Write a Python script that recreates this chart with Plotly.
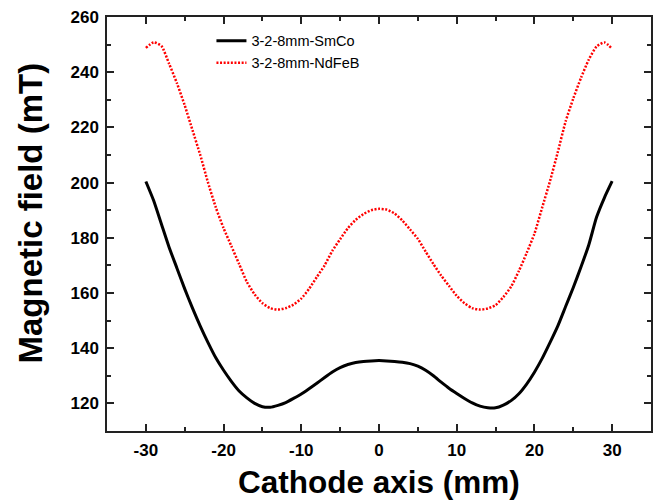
import plotly.graph_objects as go

x_vals = list(range(-30, 31))

smco = [200.4, 193.5, 185.0, 176.5, 169.0, 161.5, 154.5, 148.0, 142.0, 136.5,
        132.0, 128.0, 124.5, 122.0, 120.0, 118.8, 118.6, 119.3, 120.3, 121.8,
        123.4, 125.3, 127.3, 129.4, 131.4, 133.0, 134.1, 134.8, 135.2, 135.4,
        135.5,
        135.4, 135.2, 134.9, 134.4, 133.5, 132.0, 130.0, 127.7, 125.5, 123.6,
        121.8, 120.2, 119.0, 118.4, 118.4, 119.4, 121.0, 123.5, 127.0, 131.3,
        136.3, 142.0, 148.0, 155.0, 162.0, 169.5, 177.5, 187.5, 194.5, 200.5]

ndfeb = [248.8, 250.8, 249.5, 243.0, 236.0, 228.0, 219.0, 210.0, 200.0, 191.0,
         183.5, 177.0, 170.5, 164.0, 159.5, 156.3, 154.5, 154.0, 154.5, 155.8,
         158.0, 161.5, 165.8, 170.0, 175.3, 179.5, 183.5, 186.5, 188.6, 190.0,
         190.5,
         190.2, 188.8, 186.3, 183.0, 179.6, 175.0, 170.5, 166.3, 162.6, 159.0,
         156.3, 154.5, 154.0, 154.4, 155.6, 158.5, 162.3, 168.0, 174.5, 181.5,
         191.0, 200.5, 211.0, 222.0, 230.5, 238.0, 244.6, 249.3, 250.8, 248.5]

x_ticks = [-30, -20, -10, 0, 10, 20, 30]
x_tick_labels = ["-30", "-20", "-10", "0", "10", "20", "30"]
y_ticks = [120, 140, 160, 180, 200, 220, 240, 260]
y_tick_labels = ["120", "140", "160", "180", "200", "220", "240", "260"]

x_title = "Cathode axis (mm)"
y_title = "Magnetic field (mT)"

FONT = "Liberation Sans, Arial, sans-serif"

fig = go.Figure()
fig.add_trace(go.Scatter(x=x_vals, y=smco, mode="lines", name="3-2-8mm-SmCo",
                         line=dict(color="black", width=3, shape="spline", smoothing=0.6)))
fig.add_trace(go.Scatter(x=x_vals, y=ndfeb, mode="lines", name="3-2-8mm-NdFeB",
                         line=dict(color="#ff0000", width=2.5, dash="2px,1.6px",
                                   shape="spline", smoothing=0.6)))

axis_common = dict(showgrid=False, zeroline=False, showline=True, linecolor="#222",
                   linewidth=1.5, mirror="ticks", ticks="inside", ticklen=7,
                   tickwidth=1.5, tickcolor="#222", ticklabelstandoff=3,
                   automargin=False,
                   tickfont=dict(family=FONT, size=17, color="black", weight="bold"))

fig.update_xaxes(range=[-35, 35], tickvals=x_ticks, ticktext=x_tick_labels,
                 minor=dict(dtick=5, ticks="inside", ticklen=4, tickwidth=1.5, tickcolor="#222"),
                 **axis_common)
fig.update_yaxes(range=[110, 260], tickvals=y_ticks, ticktext=y_tick_labels,
                 minor=dict(dtick=10, ticks="inside", ticklen=4, tickwidth=1.5, tickcolor="#222"),
                 **axis_common)

fig.add_annotation(text="<b>" + x_title + "</b>", xref="paper", yref="paper",
                   x=0.5, y=-0.123, xanchor="center", yanchor="middle", showarrow=False,
                   font=dict(family=FONT, size=31.5, color="black"))
fig.add_annotation(text="<b>" + y_title + "</b>", xref="paper", yref="paper",
                   x=-0.1406, y=0.5266, xanchor="center", yanchor="middle", showarrow=False,
                   textangle=-90,
                   font=dict(family=FONT, size=33, color="black"))

fig.update_layout(
    width=659, height=501,
    margin=dict(l=107, r=8, t=17, b=70),
    paper_bgcolor="white", plot_bgcolor="white",
    showlegend=True,
    legend=dict(x=0.192, y=0.981, xanchor="left", yanchor="top",
                bgcolor="rgba(0,0,0,0)", borderwidth=0,
                font=dict(family=FONT, size=14.5, color="black"),
                tracegroupgap=0),
)

fig.write_html("out.html")
